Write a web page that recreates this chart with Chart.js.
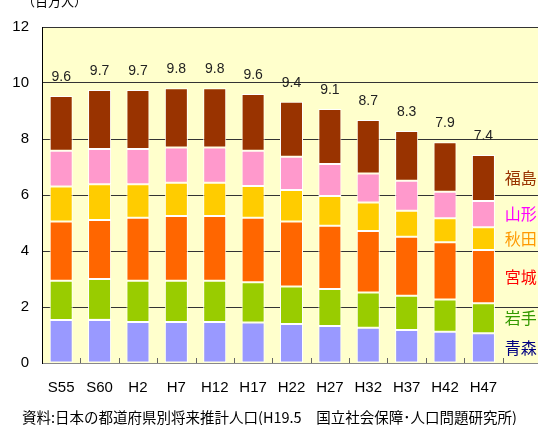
<!DOCTYPE html>
<html>
<head>
<meta charset="utf-8">
<script src="https://cdn.jsdelivr.net/npm/chart.js@4"></script>
<style>
    html, body { margin: 0; padding: 0; background: #fff; overflow: hidden; width: 538px; height: 425px; }
    canvas { display: block; }
</style>
</head>
<body>
<canvas id="popChart" width="541" height="425"></canvas>
<script>
const categories = ['S55', 'S60', 'H2', 'H7', 'H12', 'H17', 'H22', 'H27', 'H32', 'H37', 'H42', 'H47'];
const prefNames = ['青森', '岩手', '宮城', '秋田', '山形', '福島'];
const aomori    = [1.54, 1.54, 1.46, 1.46, 1.46, 1.45, 1.39, 1.32, 1.26, 1.18, 1.12, 1.06];
const iwate     = [1.40, 1.46, 1.48, 1.48, 1.48, 1.43, 1.34, 1.32, 1.26, 1.22, 1.15, 1.07];
const miyagi    = [2.11, 2.11, 2.25, 2.31, 2.31, 2.31, 2.32, 2.26, 2.19, 2.11, 2.04, 1.91];
const akita     = [1.25, 1.27, 1.19, 1.19, 1.19, 1.13, 1.13, 1.06, 1.02, 0.93, 0.86, 0.81];
const yamagata  = [1.28, 1.26, 1.26, 1.26, 1.26, 1.26, 1.19, 1.15, 1.04, 1.07, 0.95, 0.94];
const fukushima = [1.96, 2.11, 2.11, 2.11, 2.11, 2.03, 1.96, 1.96, 1.91, 1.78, 1.76, 1.64];
const totals    = ['9.6', '9.7', '9.7', '9.8', '9.8', '9.6', '9.4', '9.1', '8.7', '8.3', '7.9', '7.4'];
const yTicks    = [0, 2, 4, 6, 8, 10, 12];

const barColors  = ['#9999FF', '#99CC00', '#FF6600', '#FFCC00', '#FF99CC', '#993300'];
const nameColors = ['#000080', '#339900', '#FF0000', '#FF9900', '#FF00FF', '#993300'];
const series = [aomori, iwate, miyagi, akita, yamagata, fukushima];

// one empty slot on the right holds the prefecture names
const labels = categories.concat(['']);

const chartDecor = {
    id: 'chartDecor',
    beforeDraw(chart) {
        const { ctx, chartArea: a } = chart;
        ctx.save();
        ctx.fillStyle = '#FFFFCC';
        ctx.fillRect(a.left, a.top, a.right - a.left, a.bottom - a.top);
        ctx.restore();
    },
    afterDatasetsDraw(chart) {
        const { ctx, chartArea: a } = chart;
        const x = chart.scales.x;
        ctx.save();

        // tick marks between categories, pointing up into the plot
        ctx.strokeStyle = '#666';
        ctx.lineWidth = 1;
        for (let i = 1; i < labels.length; i++) {
            const px = Math.round((x.getPixelForValue(i - 1) + x.getPixelForValue(i)) / 2) + 0.5;
            ctx.beginPath();
            ctx.moveTo(px, a.bottom - 5);
            ctx.lineTo(px, a.bottom);
            ctx.stroke();
        }

        // totals above each bar
        const topMeta = chart.getDatasetMeta(series.length - 1);
        ctx.fillStyle = '#222';
        ctx.font = "14px 'Liberation Sans', Arial, sans-serif";
        ctx.textAlign = 'center';
        ctx.textBaseline = 'middle';
        totals.forEach((t, i) => {
            const bar = topMeta.data[i];
            ctx.fillText(t, bar.x, bar.y - 19);
        });

        // prefecture names next to the last bar
        const last = categories.length - 1;
        const nameX = x.getPixelForValue(categories.length) - 1;
        ctx.font = "16px 'Noto Sans CJK JP', sans-serif";
        prefNames.forEach((name, k) => {
            const seg = chart.getDatasetMeta(k).data[last];
            ctx.fillStyle = nameColors[k];
            ctx.fillText(name, nameX, (seg.y + seg.base) / 2);
        });

        // unit and source
        ctx.fillStyle = '#000';
        ctx.textAlign = 'left';
        ctx.textBaseline = 'bottom';
        ctx.font = "13px 'Noto Sans CJK JP', sans-serif";
        ctx.fillText('（百万人）', 22, 8);
        ctx.textBaseline = 'middle';
        ctx.font = "14.5px 'Noto Sans CJK JP', sans-serif";
        ctx.fillText('資料:日本の都道府県別将来推計人口(H19.5　国立社会保障･人口問題研究所)', 22, 417);
        ctx.restore();
    }
};

new Chart(document.getElementById('popChart'), {
    type: 'bar',
    data: {
        labels: labels,
        datasets: series.map((vals, k) => ({
            label: prefNames[k],
            data: vals,
            backgroundColor: barColors[k],
            borderColor: '#FFFFFF',
            borderWidth: 1,
            borderSkipped: false,
            barPercentage: 0.6,
            categoryPercentage: 1.0
        }))
    },
    options: {
        responsive: false,
        animation: false,
        layout: { padding: { top: 27, right: 0, bottom: 0, left: 0 } },
        plugins: {
            legend: { display: false },
            tooltip: { enabled: false }
        },
        scales: {
            x: {
                stacked: true,
                grid: { display: false, drawTicks: false },
                border: { color: '#888', width: 1 },
                ticks: {
                    color: '#000',
                    font: { family: "'Liberation Sans', Arial, sans-serif", size: 15 },
                    padding: 16,
                    maxRotation: 0,
                    autoSkip: false
                },
                afterFit(scale) { scale.height = 62; }
            },
            y: {
                stacked: true,
                min: 0,
                max: 12,
                afterBuildTicks(scale) { scale.ticks = yTicks.map(v => ({ value: v })); },
                grid: {
                    drawTicks: false,
                    color: c => (c.tick && c.tick.value === 0) ? 'rgba(0,0,0,0)' : '#333'
                },
                border: { color: '#000', width: 1 },
                ticks: {
                    color: '#000',
                    font: { family: "'Liberation Sans', Arial, sans-serif", size: 15 },
                    padding: 13
                },
                afterFit(scale) { scale.width = 42; }
            }
        }
    },
    plugins: [chartDecor]
});
</script>
</body>
</html>
